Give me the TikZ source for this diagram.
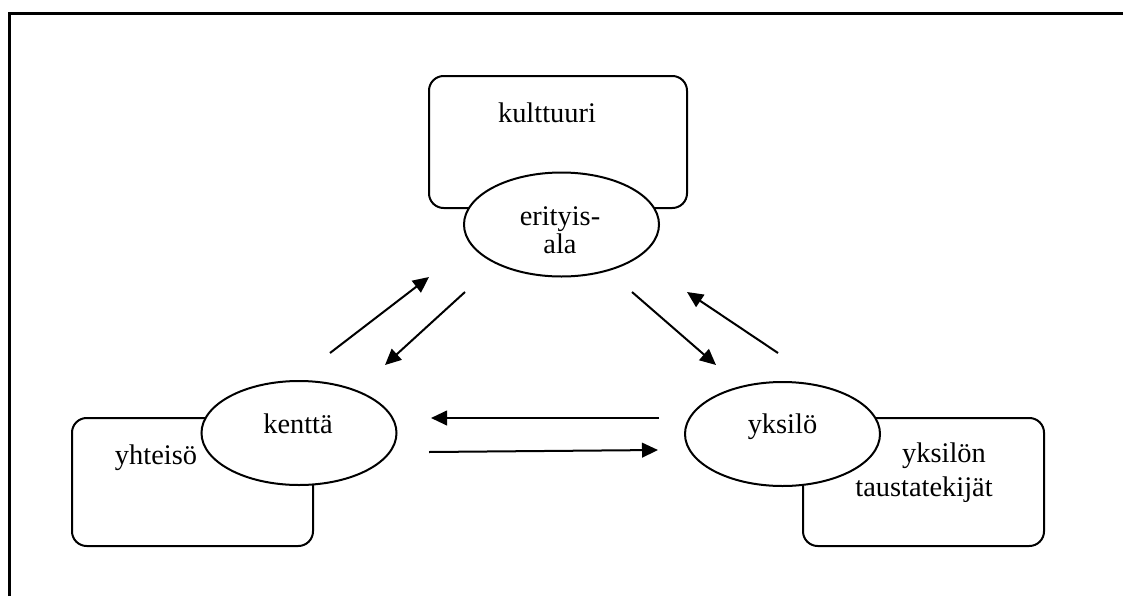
\documentclass[tikz,border=0pt]{standalone}
\usepackage{fontspec}
\setmainfont{Liberation Serif}
\usetikzlibrary{arrows.meta,shapes.geometric}
\begin{document}
\begin{tikzpicture}[x=0.75pt,y=-0.75pt,
  line width=1.5pt,
  frame/.style={line width=2pt},
  box/.style={draw,rounded corners=11pt,minimum width=180.75pt,minimum height=96pt,inner sep=0pt},
  oval/.style={draw,fill=white,ellipse,minimum width=146.25pt,minimum height=78pt,inner sep=0pt},
  lbl/.style={anchor=base,inner sep=0pt,font=\fontsize{21.3}{25}\selectfont},
  arr/.style={-{Triangle[length=12pt,width=11pt]},line width=1.5pt}]
\useasboundingbox (0,0) rectangle (1123,596);
% outer frame (top and left edges only)
\draw[frame] (9.5,596) -- (9.5,13.5) -- (1123,13.5);
% boxes
\node[box,minimum width=193.5pt,minimum height=99pt] (kult) at (558,142) {};
\node[box] (yht) at (192.5,482) {};
\node[box] (taus) at (923.5,482) {};
% ellipses
\node[oval] (eri) at (561.5,224.5) {};
\node[oval] (ken) at (299,433) {};
\node[oval] (yks) at (782.5,434) {};
% texts
\node[lbl] (tkult) at (547,122) {kulttuuri};
\node[lbl,align=center,font=\fontsize{21.3}{18}\selectfont] (teri) at (560,253) {erityis-\\ala};
\node[lbl] (tken) at (298,433) {kenttä};
\node[lbl] (tyht) at (156,464) {yhteisö};
\node[lbl] (tyks) at (782.5,433) {yksilö};
\node[lbl] (ttaus1) at (944,462) {yksilön};
\node[lbl] (ttaus2) at (924,496) {taustatekijät};
% arrow end points
\coordinate (a1s) at (330,353); \coordinate (a1e) at (429,277);
\coordinate (a2s) at (465,292); \coordinate (a2e) at (385,365);
\coordinate (a3s) at (632,292); \coordinate (a3e) at (716,365);
\coordinate (a4s) at (778,353); \coordinate (a4e) at (687,292);
\coordinate (a5s) at (659,418); \coordinate (a5e) at (431,418);
\coordinate (a6s) at (429,452); \coordinate (a6e) at (658,450);
\draw[arr] (a1s) -- (a1e);
\draw[arr] (a2s) -- (a2e);
\draw[arr] (a3s) -- (a3e);
\draw[arr] (a4s) -- (a4e);
\draw[arr] (a5s) -- (a5e);
\draw[arr] (a6s) -- (a6e);
\end{tikzpicture}
\end{document}
